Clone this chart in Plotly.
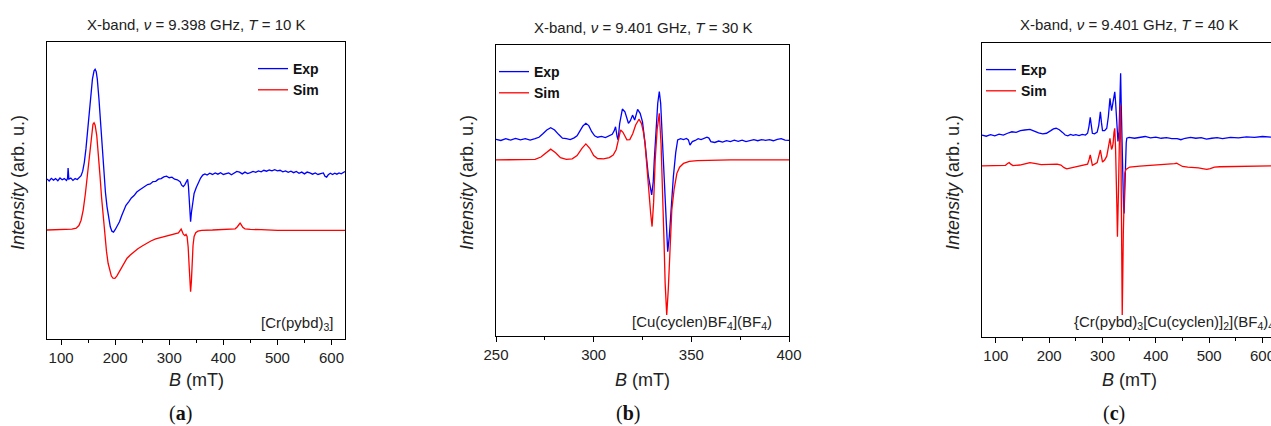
import plotly.graph_objects as go

W, H = 1271, 426

# ---- panel (a): [Cr(pybd)3], 10 K ----
a_exp_B = [74, 78, 82, 86, 90, 94, 98, 102, 106, 110, 112, 113, 114.5, 118, 122, 126, 130, 134, 137, 140,
           143, 146, 149, 152, 155, 158, 161, 163, 165, 167, 170, 173, 176, 179, 182, 185, 188, 191, 194, 197,
           200, 204, 208, 212, 216, 220, 225, 230, 235, 240, 245, 250, 255, 260, 265, 270, 275, 280, 285, 290,
           295, 300, 305, 310, 315, 320, 323, 326, 329, 332, 334, 335.5, 337, 338.5, 339.5, 341, 343, 346, 350, 354,
           358, 362, 366, 370, 375, 380, 385, 390, 395, 400, 405, 410, 415, 420, 425, 430, 435, 440, 445, 450,
           455, 460, 465, 470, 475, 480, 485, 490, 495, 500, 505, 510, 515, 520, 525, 530, 535, 540, 545, 550,
           555, 560, 565, 570, 575, 580, 585, 588, 591, 594, 598, 602, 606, 610, 614, 618, 622, 625]
a_exp_I = [53.9, 53.2, 54.1, 53.5, 54.0, 53.3, 54.2, 53.6, 54.0, 53.4, 54.0, 57.6, 53.8, 54.2, 53.4, 54.0, 53.7, 54.4, 55, 56.5,
           59.5, 64, 70, 76.5, 83, 87.5, 90.3, 90.8, 90, 87.5, 81, 73, 64.5, 56.5, 49.5, 44.5, 40.5, 37.8, 36.3, 36,
           36.8, 38.2, 39.5, 41.5, 43.2, 45, 46.2, 47.5, 48.3, 49.5, 50.2, 50.8, 51.5, 52, 52.2, 53, 53.1, 53.8, 54, 54.6,
           54.8, 54.3, 54.5, 53.8, 53.6, 53, 51.8, 51.3, 52, 53.5, 53.8, 51.5, 46, 41, 39.5, 42.5, 46, 49, 51, 52.8,
           54.2, 55.2, 55.6, 55.2, 55.8, 55.4, 55.9, 55.5, 56, 55.4, 55.6, 55.9, 55.3, 56, 56.4, 56.2, 55.6, 56.2, 55.7, 56,
           56.4, 56.1, 56.6, 56.3, 56.8, 56.5, 56.9, 56.6, 57, 56.6, 56.8, 56.3, 56.6, 56.1, 56.5, 56, 56.4, 55.8, 56.2, 55.6,
           56.2, 55.9, 55.5, 55.9, 55.4, 55.7, 55.9, 54.8, 54.5, 55.3, 55.8, 55.4, 55.8, 55.5, 55.9, 55.6, 56.2, 56.4]
a_sim_B = [74, 100, 110, 120, 128, 133, 137, 141, 145, 149, 153, 156, 159, 161, 163, 166, 169, 172, 175, 178,
           181, 184, 187, 190, 193, 196, 199.5, 203, 207, 212, 217, 222, 228, 235, 242, 250, 258, 266, 275, 285,
           295, 305, 312, 317, 320, 322, 324, 326, 329, 331, 333, 335, 337, 338.5, 339.5, 341, 342.5, 344, 346, 349,
           353, 360, 380, 400, 415, 422, 426, 429, 431, 433, 436, 440, 450, 470, 500, 550, 600, 625]
a_sim_I = [36.7, 36.8, 37.0, 37.0, 37.3, 38.2, 40, 43.5, 49, 56, 63.5, 68.5, 72.3, 72.8, 72, 68.5, 62.5, 55, 47.5, 40.5,
           34.5, 29.5, 25.5, 22.8, 21.2, 20.5, 20.4, 21.2, 22.5, 24.3, 25.8, 27.2, 28.3, 29.4, 30.4, 31.3, 32.2, 33, 33.7, 34.2,
           34.7, 35, 35.3, 35.7, 36.5, 37, 36.2, 35.3, 34.8, 35.2, 34.5, 31, 24, 18, 15.9, 19.5, 26, 31.5, 34.5, 35.8,
           36.3, 36.6, 36.7, 36.8, 36.9, 37.1, 37.8, 38.8, 39, 38.5, 37.6, 37.1, 36.9, 36.8, 36.6, 36.6, 36.5, 36.6]

# ---- panel (b): [Cu(cyclen)BF4](BF4), 30 K ----
b_exp_B = [250, 252.5, 255, 257.5, 260, 262.5, 265, 267.5, 270, 272, 274, 276, 278, 280, 282, 284, 286, 288, 290, 291.5,
           293, 294.5, 296, 297.5, 299, 300.5, 302, 304, 306, 308, 309.5, 310.5, 311.2, 312, 312.5, 313.3, 314.7, 316, 317.8, 318.8,
           319.9, 321, 322.5, 323.8, 325, 326.3, 327.2, 328, 329.7, 330.5, 331, 332, 332.8, 333.6, 334.3, 335, 335.7, 336.5, 337.2, 337.9,
           338.7, 339.5, 340.8, 342, 343, 344.5, 346, 347.5, 348.5, 349.3, 350.5, 352, 353.5, 355, 356.5, 358, 359, 360, 362, 364,
           366, 368, 370, 372, 374, 376, 378, 380, 382, 384, 386, 388, 390, 392, 394, 396, 398, 400]
b_exp_I = [67.6, 67.2, 67.8, 67.3, 67.9, 67.4, 67.8, 67.3, 67.8, 68.3, 69.5, 70.8, 71.6, 70.8, 69.3, 68, 67.8, 67.5, 68.1, 68.8,
           70.5, 72.2, 73.1, 72.3, 70.2, 68.8, 68.3, 68.6, 68.2, 68.9, 69.3, 70.5, 71.9, 68.5, 67.4, 73, 78, 77, 73.1, 74,
           75.9, 74.2, 77.9, 76.5, 73.6, 66.2, 60, 55, 48.5, 53, 60, 71.9, 80, 84, 80, 70, 60.5, 48, 37, 29,
           34, 42, 54.7, 63, 67.4, 67.8, 67.5, 67.9, 67.4, 65.6, 66.8, 67.2, 67.8, 67.5, 68, 68.3, 68, 66.8, 66.5, 67,
           66.6, 67.1, 66.8, 67.3, 66.9, 67.3, 66.8, 67.2, 67.5, 67.1, 67.5, 67.2, 67.5, 67.1, 67.6, 67.8, 67.3, 67.2]
b_sim_B = [250, 265, 270, 273, 275.5, 278, 280.5, 283, 286, 289, 291.5, 294, 296, 298, 300, 302, 305, 308, 310, 311.5,
           312.7, 313.8, 315, 317, 318.5, 320, 321.5, 323.2, 324.5, 325.5, 326.3, 327.2, 328, 329.2, 329.9, 330.7, 331.5, 332.5, 333.6, 334.5,
           335.4, 336.0, 336.6, 337.4, 338.2, 339, 340, 341.2, 342.6, 344, 346, 349, 353, 370, 400]
b_sim_I = [60.5, 60.5, 60.7, 61.5, 63, 64.2, 63, 61.3, 60.7, 60.9, 62, 64.5, 66, 64.5, 62, 61, 60.9, 61.3, 62.2, 64,
           67.5, 70.8, 70, 67.4, 67.5, 69.5, 72.5, 74.5, 73, 70, 66.2, 60, 52, 42, 37.6, 46, 60.5, 71, 76.5, 66,
           49, 33, 18, 7.2, 16, 30, 43.3, 50.5, 55.9, 58, 59.3, 60, 60.3, 60.5, 60.5]

# ---- panel (c): {Cr(pybd)3[Cu(cyclen)]2}(BF4)4, 40 K ----
c_exp_B = [74, 82, 90, 98, 106, 114, 122, 130, 138, 146, 154, 164, 172, 180, 188, 195, 203, 208, 213, 219,
           225, 230, 235, 240, 245, 250, 256, 262, 268, 272, 274.5, 277, 279, 281, 285, 290, 293, 296, 298, 300,
           304, 308, 311, 314, 315.5, 317, 318.5, 320, 321.5, 323, 324.5, 326, 327.5, 329, 331, 332.5, 334, 335, 336, 337,
           338, 339.5, 340.5, 341.5, 343, 344.5, 345.5, 350, 360, 370, 380, 390, 400, 410, 420, 430, 440, 447, 455, 465,
           475, 485, 495, 505, 515, 525, 540, 555, 570, 585, 600, 616]
c_exp_I = [68.7, 68.3, 68.8, 68.4, 69, 68.7, 69.3, 69.8, 69.6, 70.2, 70.4, 70.6, 70, 69.4, 69.1, 69.3, 70.2, 70.8, 71, 70.5,
           69.6, 68.7, 68.4, 68.9, 68.6, 68.8, 68.5, 68.9, 68.7, 69.3, 71.5, 74.7, 72, 69.3, 69.1, 69.7, 72, 76.6, 73, 70.2,
           70.2, 71, 75, 81.2, 79, 77, 78.5, 80, 82.5, 83.4, 80, 74, 68, 66.5, 70, 80, 89.7, 80, 70, 58,
           50, 44, 42, 50, 60, 66, 67.6, 67.9, 67.6, 68, 68.2, 67.7, 68, 67.6, 67.8, 67.5, 67.5, 67.1, 67.6, 67.9,
           67.6, 67.8, 67.3, 67.6, 67.8, 67.5, 67.9, 67.7, 68.1, 67.9, 68.2, 68.0]
c_sim_B = [74, 110, 118, 122, 125, 128, 132, 145, 155, 164, 175, 185, 200, 215, 222, 228, 233, 240, 250, 262,
           272, 275, 277, 279, 281, 286, 290, 293, 296, 298, 300, 304, 308, 311, 314, 315.5, 317, 318.5, 320, 321.5,
           323, 324.5, 326, 327, 328, 329, 330, 331.5, 333.5, 334.5, 335.5, 336.3, 337, 337.8, 339, 340.5, 341.8, 344, 351, 370,
           400, 420, 430, 435, 439, 443, 450, 460, 470, 480, 490, 495.6, 502, 510, 520, 540, 560, 590, 616]
c_sim_I = [58.2, 58.2, 58.4, 59, 59.3, 58.8, 58.3, 58.5, 58.9, 59.3, 59, 58.6, 58.7, 58.8, 58.5, 57.6, 57.2, 57.5, 58, 58.3,
           58.8, 60.5, 61.9, 60.2, 58.4, 58.9, 59.3, 61.5, 63.6, 61.5, 59.5, 60.2, 61.5, 64.5, 67.6, 65.5, 63.8, 64.5, 66, 69.5,
           71, 64, 55, 44, 34.1, 40, 50, 65, 78.9, 65, 45, 25, 7.5, 18, 35, 49, 55.7, 57, 57.8, 58.1,
           58.4, 58.6, 58.7, 59, 59.1, 58.6, 58, 57.8, 57.7, 57.5, 57.2, 57.0, 57.3, 57.8, 57.9, 58, 58.1, 58.2, 58.2]

titles = ["X-band, <i>ν</i> = 9.398 GHz, <i>T</i> = 10 K",
          "X-band, <i>ν</i> = 9.401 GHz, <i>T</i> = 30 K",
          "X-band, <i>ν</i> = 9.401 GHz, <i>T</i> = 40 K"]
samples = ["[Cr(pybd)<sub>3</sub>]",
           "[Cu(cyclen)BF<sub>4</sub>](BF<sub>4</sub>)",
           "{Cr(pybd)<sub>3</sub>[Cu(cyclen)]<sub>2</sub>](BF<sub>4</sub>)<sub>4</sub>"]
letters = ["a", "b", "c"]

# pixel boxes of the three plot frames (left, right, top, bottom)
boxes = [(47, 345, 42, 339), (496, 789, 45, 336), (982, 1271, 43, 337)]
xranges = [[74, 625], [250, 400], [74, 616]]
dticks = [100, 50, 100]

FONT = "Arial, Liberation Sans, sans-serif"
BLUE = "#0000ff"
RED = "#ff0000"

def px(x):
    return x / W

def py(y):
    return 1 - y / H

fig = go.Figure()

data = [(a_exp_B, a_exp_I, a_sim_B, a_sim_I),
        (b_exp_B, b_exp_I, b_sim_B, b_sim_I),
        (c_exp_B, c_exp_I, c_sim_B, c_sim_I)]

legend_pos = [(253, 53), (494, 56), (981, 54)]

for i, (eB, eI, sB, sI) in enumerate(data):
    n = "" if i == 0 else str(i + 1)
    leg = "legend" if i == 0 else "legend" + str(i + 1)
    fig.add_trace(go.Scatter(x=eB, y=eI, mode="lines", name="Exp", line=dict(color=BLUE, width=1.3),
                             xaxis="x" + n, yaxis="y" + n, legend=leg))
    fig.add_trace(go.Scatter(x=sB, y=sI, mode="lines", name="Sim", line=dict(color=RED, width=1.3),
                             xaxis="x" + n, yaxis="y" + n, legend=leg))

layout = dict(
    template="none",
    width=W, height=H,
    margin=dict(l=0, r=0, t=0, b=0, autoexpand=False),
    paper_bgcolor="white", plot_bgcolor="white",
    font=dict(family=FONT, color="#222"),
    showlegend=True,
)

annotations = []
for i, (l, r, t, b) in enumerate(boxes):
    n = "" if i == 0 else str(i + 1)
    last = i == 2
    layout["xaxis" + n] = dict(
        domain=[px(l), px(r)], range=xranges[i], anchor="y" + n, automargin=False,
        showline=True, linecolor="black", linewidth=1.3, mirror=True,
        ticks="outside", ticklen=5, tickwidth=1, tickcolor="black", dtick=dticks[i],
        minor=dict(ticks="outside", ticklen=3, tickwidth=1, tickcolor="black", dtick=dticks[i] / 2),
        showgrid=False, zeroline=False, ticklabeloverflow="allow",
        tickfont=dict(size=15, color="#222"),
    )
    layout["yaxis" + n] = dict(
        domain=[py(b), py(t)], range=[0, 100], anchor="x" + n, automargin=False,
        showline=True, linecolor="black", linewidth=1.3, mirror=not last,
        ticks="", showticklabels=False, showgrid=False, zeroline=False,
    )
    lx, ly = legend_pos[i]
    layout["legend" if i == 0 else "legend" + str(i + 1)] = dict(
        x=px(lx), y=py(ly), xanchor="left", yanchor="top",
        bgcolor="rgba(0,0,0,0)", borderwidth=0,
        font=dict(size=14, color="#111", weight="bold"),
        tracegroupgap=0, itemwidth=30,
    )
    cx = (l + (r if not last else 1276)) / 2
    annotations.append(dict(text=titles[i], x=px(cx), y=py(t - 18), xref="paper", yref="paper",
                            showarrow=False, font=dict(size=15, color="#222"), xanchor="center", yanchor="middle"))
    annotations.append(dict(text="<i>B</i> (mT)", x=px(cx), y=py(380), xref="paper", yref="paper",
                            showarrow=False, font=dict(size=18, color="#222"), xanchor="center", yanchor="middle"))
    annotations.append(dict(text="<i>Intensity</i> (arb. u.)", x=px(l - 29), y=py(183), xref="paper", yref="paper",
                            showarrow=False, textangle=-90, font=dict(size=18, color="#222"),
                            xanchor="center", yanchor="middle"))
    annotations.append(dict(text="(<b>" + letters[i] + "</b>)", x=px(cx - 15), y=py(413), xref="paper", yref="paper",
                            showarrow=False, font=dict(size=20, color="#111",
                                                       family="Liberation Serif, DejaVu Serif, serif"),
                            xanchor="center", yanchor="middle"))

annotations.append(dict(text=samples[0], x=px(336), y=py(323), xref="paper", yref="paper", showarrow=False,
                        font=dict(size=15, color="#222"), xanchor="right", yanchor="middle"))
annotations.append(dict(text=samples[1], x=px(774), y=py(322), xref="paper", yref="paper", showarrow=False,
                        font=dict(size=15, color="#222"), xanchor="right", yanchor="middle"))
annotations.append(dict(text=samples[2], x=px(1072), y=py(322), xref="paper", yref="paper", showarrow=False,
                        font=dict(size=15, color="#222"), xanchor="left", yanchor="middle"))

layout["annotations"] = annotations
fig.update_layout(**layout)

# no default 8px page margin, and clip whatever runs past the right edge (panel c is cut off there)
fig.write_html(
    "out.html",
    config={"displayModeBar": False},
    post_script=("document.documentElement.style.overflow='hidden';"
                 "document.body.style.margin='0';document.body.style.overflow='hidden';"
                 "document.getElementById('{plot_id}').style.overflow='hidden';"),
)
